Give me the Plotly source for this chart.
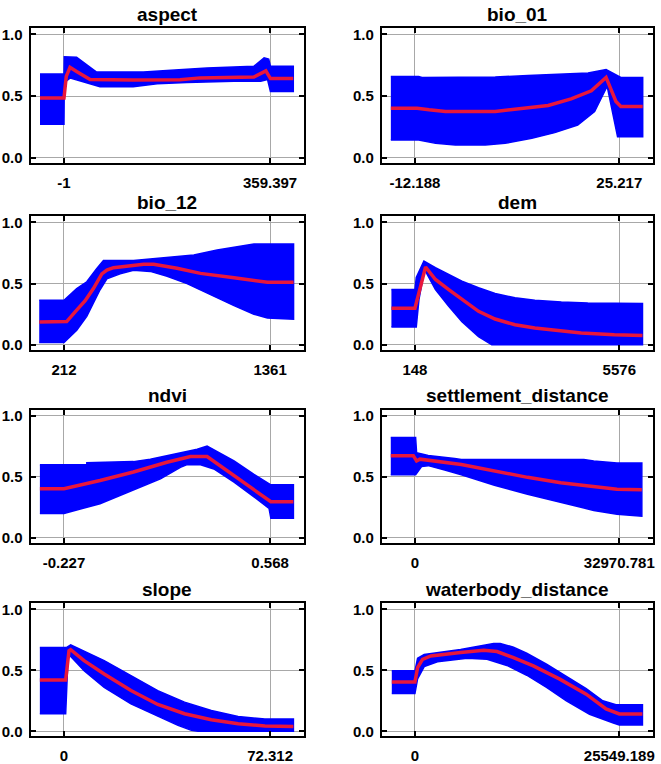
import plotly.graph_objects as go

# ---------------- data ----------------
variables = ["aspect", "bio_01", "bio_12", "dem", "ndvi",
             "settlement_distance", "slope", "waterbody_distance"]
x_min = [-1, -12.188, 212, 148, -0.227, 0, 0, 0]
x_max = [359.397, 25.217, 1361, 5576, 0.568, 32970.781, 72.312, 25549.189]
x_min_labels = ["-1", "-12.188", "212", "148", "-0.227", "0", "0", "0"]
x_max_labels = ["359.397", "25.217", "1361", "5576", "0.568", "32970.781", "72.312", "25549.189"]
y_ticks = [0, 0.5, 1.0]
y_tick_labels = ["0.0", "0.5", "1.0"]

# (x, response) pairs: mean curve, upper and lower edge of the +/- sd band
aspect_mean = [(-43, 0.485), (-1, 0.485), (3, 0.66), (9.5, 0.734), (21, 0.70), (44.6, 0.635),
               (120, 0.63), (202, 0.632), (237, 0.648), (331, 0.655), (352, 0.705),
               (360, 0.642), (400, 0.642)]
aspect_upper = [(-43, 0.68), (-1, 0.68), (-0.5, 0.82), (21, 0.815), (56, 0.695), (138, 0.695),
                (179, 0.707), (249, 0.728), (331, 0.742), (349, 0.81), (357, 0.80),
                (360, 0.742), (400, 0.742)]
aspect_lower = [(-43, 0.272), (-1, 0.272), (-0.5, 0.61), (10, 0.647), (62, 0.576), (120, 0.576),
                (162, 0.60), (214, 0.61), (296, 0.62), (343, 0.62), (355, 0.635),
                (360, 0.538), (400, 0.538)]

bio01_mean = [(-16.6, 0.402), (-11.8, 0.402), (-9.6, 0.389), (-6.6, 0.375), (2.5, 0.375),
              (7.3, 0.397), (12.2, 0.424), (16.4, 0.478), (20.1, 0.543), (22.8, 0.652),
              (24.6, 0.457), (25.5, 0.416), (29.5, 0.416)]
bio01_upper = [(-16.6, 0.66), (-11.5, 0.66), (-10.9, 0.652), (2.5, 0.655), (8.5, 0.668),
               (14.6, 0.682), (19.5, 0.688), (22.8, 0.715), (25.2, 0.66), (25.5, 0.652),
               (29.5, 0.652)]
bio01_lower = [(-16.6, 0.144), (-11.5, 0.144), (-8.4, 0.117), (-4.8, 0.103), (0.7, 0.103),
               (4.3, 0.117), (9.2, 0.158), (13.4, 0.204), (17.6, 0.266), (20.7, 0.375),
               (23.0, 0.58), (24.9, 0.171), (29.5, 0.171)]

bio12_mean = [(74, 0.186), (212, 0.186), (227, 0.19), (274, 0.27), (330, 0.36), (376, 0.46),
              (423, 0.58), (451, 0.61), (488, 0.63), (656, 0.658), (712, 0.658), (842, 0.625),
              (973, 0.584), (1160, 0.548), (1346, 0.512), (1492, 0.512)]
bio12_upper = [(74, 0.364), (212, 0.364), (283, 0.46), (339, 0.515), (395, 0.625), (432, 0.69),
               (600, 0.69), (787, 0.712), (936, 0.734), (1066, 0.775), (1197, 0.81),
               (1271, 0.824), (1492, 0.824)]
bio12_lower = [(74, 0.019), (212, 0.019), (283, 0.12), (339, 0.233), (413, 0.45), (451, 0.54),
               (525, 0.58), (600, 0.61), (693, 0.60), (787, 0.56), (898, 0.50), (1010, 0.42),
               (1160, 0.32), (1271, 0.25), (1346, 0.22), (1492, 0.21)]

dem_mean = [(-477, 0.30), (148, 0.30), (430, 0.636), (693, 0.534), (1045, 0.452), (1397, 0.37),
            (1837, 0.274), (2277, 0.211), (2805, 0.164), (3333, 0.137), (4037, 0.11),
            (4564, 0.096), (5444, 0.082), (6192, 0.077)]
dem_upper = [(-477, 0.452), (148, 0.452), (183, 0.55), (386, 0.685), (693, 0.63), (1045, 0.575),
             (1397, 0.52), (1837, 0.466), (2277, 0.42), (2805, 0.384), (3333, 0.364),
             (4037, 0.35), (4740, 0.342), (6192, 0.337)]
dem_lower = [(-477, 0.145), (183, 0.145), (254, 0.37), (386, 0.59), (430, 0.60), (693, 0.452),
             (1045, 0.315), (1397, 0.19), (1837, 0.068), (2189, 0.0), (6192, 0.0)]

ndvi_mean = [(-0.320, 0.403), (-0.227, 0.403), (-0.088, 0.47), (0.041, 0.54), (0.170, 0.62),
             (0.261, 0.667), (0.325, 0.667), (0.571, 0.296), (0.658, 0.296)]
ndvi_upper = [(-0.320, 0.60), (-0.139, 0.60), (-0.139, 0.615), (0.041, 0.625), (0.106, 0.645),
              (0.196, 0.685), (0.287, 0.726), (0.325, 0.753), (0.429, 0.63), (0.506, 0.52),
              (0.571, 0.435), (0.658, 0.435)]
ndvi_lower = [(-0.320, 0.20), (-0.227, 0.20), (-0.088, 0.28), (0.041, 0.39), (0.145, 0.484),
              (0.222, 0.578), (0.248, 0.60), (0.300, 0.60), (0.351, 0.565), (0.429, 0.457),
              (0.506, 0.336), (0.564, 0.242), (0.571, 0.161), (0.658, 0.161)]

settle_mean = [(-3901, 0.674), (-267, 0.674), (267, 0.63), (802, 0.645), (7482, 0.602),
               (12826, 0.549), (18170, 0.496), (23514, 0.451), (28850, 0.424),
               (32598, 0.398), (36606, 0.394)]
settle_upper = [(-3901, 0.822), (107, 0.822), (267, 0.698), (2138, 0.676), (6413, 0.65),
                (7482, 0.643), (27254, 0.643), (28850, 0.63), (32598, 0.614), (36606, 0.614)]
settle_lower = [(-3901, 0.517), (107, 0.517), (1069, 0.584), (2138, 0.592), (4810, 0.557),
                (7482, 0.517), (10154, 0.477), (12826, 0.432), (18170, 0.358), (23514, 0.292),
                (28850, 0.225), (32598, 0.194), (36606, 0.178)]

slope_mean = [(-8.47, 0.42), (0.59, 0.42), (1.76, 0.66), (2.35, 0.67), (7.05, 0.579),
              (14.1, 0.47), (23.5, 0.334), (32.9, 0.22), (42.3, 0.144), (51.7, 0.095),
              (61.1, 0.0625), (70.5, 0.043), (80.5, 0.04)]
slope_upper = [(-8.47, 0.687), (0.82, 0.687), (2.35, 0.709), (7.05, 0.66), (14.1, 0.58),
               (23.5, 0.457), (32.9, 0.334), (42.3, 0.239), (51.7, 0.171), (61.1, 0.122),
               (70.5, 0.10), (80.5, 0.10)]
slope_lower = [(-8.47, 0.144), (0.59, 0.144), (1.41, 0.60), (2.12, 0.62), (7.05, 0.497),
               (14.1, 0.36), (23.5, 0.225), (32.9, 0.122), (40.0, 0.049), (44.7, 0.008),
               (47.0, 0.0), (80.5, 0.0)]

water_mean = [(-2894, 0.405), (0, 0.405), (331, 0.523), (951, 0.59), (1984, 0.618),
              (3638, 0.632), (5705, 0.646), (8599, 0.665), (10252, 0.654), (12319, 0.605),
              (14800, 0.537), (18107, 0.428), (21414, 0.305), (23894, 0.183),
              (25549, 0.142), (28442, 0.142)]
water_upper = [(-2894, 0.496), (0, 0.496), (331, 0.60), (1158, 0.63), (5705, 0.67),
               (9012, 0.71), (9839, 0.72), (10666, 0.72), (12319, 0.69), (13973, 0.64),
               (16453, 0.55), (18934, 0.45), (21414, 0.35), (23481, 0.25), (25135, 0.218),
               (28442, 0.218)]
water_lower = [(-2894, 0.31), (0, 0.31), (331, 0.43), (1158, 0.53), (2811, 0.57), (6532, 0.60),
               (9012, 0.59), (11492, 0.54), (13973, 0.46), (16453, 0.36), (18934, 0.25),
               (21828, 0.14), (24721, 0.07), (25549, 0.052), (28442, 0.052)]

means = [aspect_mean, bio01_mean, bio12_mean, dem_mean, ndvi_mean, settle_mean, slope_mean, water_mean]
uppers = [aspect_upper, bio01_upper, bio12_upper, dem_upper, ndvi_upper, settle_upper, slope_upper, water_upper]
lowers = [aspect_lower, bio01_lower, bio12_lower, dem_lower, ndvi_lower, settle_lower, slope_lower, water_lower]

# ---------------- layout geometry (pixels) ----------------
W, H = 661, 764
col_px = [(30.7, 305.0), (383.0, 655.0)]
row_px = [(25.5, 161.0), (215.0, 349.5), (410.0, 544.0), (605.0, 739.0)]

BLUE = "#0000ff"
RED = "#e8173c"
GRID = "#a8a8a8"
FONT = "Liberation Sans, Arial, sans-serif"
tickfont = dict(family=FONT, size=15, color="black", weight="bold")

fig = go.Figure()
annotations = []
for i, name in enumerate(variables):
    r, c = divmod(i, 2)
    ax = "" if i == 0 else str(i + 1)
    up, lo, mn = uppers[i], lowers[i], means[i]
    bx = [p[0] for p in up] + [p[0] for p in reversed(lo)]
    by = [p[1] for p in up] + [p[1] for p in reversed(lo)]
    fig.add_trace(go.Scatter(x=bx, y=by, fill="toself", fillcolor=BLUE, mode="lines",
                             line=dict(color=BLUE, width=1.5), hoverinfo="skip",
                             showlegend=False, xaxis="x" + ax, yaxis="y" + ax))
    fig.add_trace(go.Scatter(x=[p[0] for p in mn], y=[p[1] for p in mn], mode="lines",
                             line=dict(color=RED, width=3.5), showlegend=False,
                             xaxis="x" + ax, yaxis="y" + ax))
    R = x_max[i] - x_min[i]
    l, rr = col_px[c]
    t, b = row_px[r]
    common = dict(ticks="inside", ticklen=5, tickwidth=1.5, tickcolor="black",
                  showline=True, linecolor="black", linewidth=2, mirror="ticks",
                  showgrid=True, gridcolor=GRID, gridwidth=1, zeroline=False,
                  tickfont=tickfont, fixedrange=True)
    fig.update_layout(**{
        "xaxis" + ax: dict(domain=[l / W, rr / W], anchor="y" + ax,
                           range=[x_min[i] - 0.162 * R, x_max[i] + 0.165 * R],
                           tickmode="array", tickvals=[x_min[i], x_max[i]],
                           ticktext=[x_min_labels[i], x_max_labels[i]],
                           ticklabelstandoff=5, **common),
        "yaxis" + ax: dict(domain=[1 - b / H, 1 - t / H], anchor="x" + ax,
                           range=[-0.04, 1.05], tickmode="array", tickvals=y_ticks,
                           ticktext=y_tick_labels, ticklabelstandoff=3, **common),
    })
    annotations.append(dict(text="<b>" + name + "</b>", xref="paper", yref="paper",
                            x=(l + rr) / 2 / W, y=1 - (t - 14) / H, xanchor="center",
                            yanchor="middle", showarrow=False,
                            font=dict(family=FONT, size=19, color="black")))

fig.update_layout(width=W, height=H, margin=dict(l=0, r=0, t=0, b=0),
                  paper_bgcolor="white", plot_bgcolor="white", annotations=annotations)
fig.write_html("out.html")
